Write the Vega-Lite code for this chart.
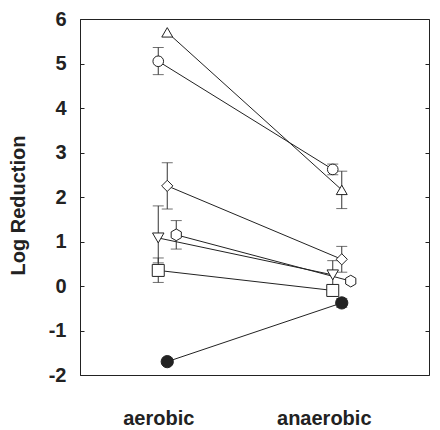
{
  "$schema": "https://vega.github.io/schema/vega-lite/v6.json",
  "width": 349,
  "height": 356,
  "autosize": {"type": "none"},
  "padding": {"left": 80, "top": 19, "right": 11, "bottom": 55},
  "background": "white",
  "config": {
    "view": {"stroke": "#222", "strokeWidth": 1},
    "font": "Liberation Sans",
    "axis": {"domainColor": "#222", "tickColor": "#222", "labelColor": "#222", "titleColor": "#222", "grid": false, "labelFontWeight": "bold", "titleFontWeight": "bold", "labelFont": "Liberation Sans", "titleFont": "Liberation Sans"}
  },
  "data": {
    "values": [
      {"series": "S1", "condition": "aerobic", "value": 5.05, "lo": 4.75, "hi": 5.36},
      {"series": "S1", "condition": "anaerobic", "value": 2.62, "lo": 2.50, "hi": 2.74},
      {"series": "S2", "condition": "aerobic", "value": 5.70, "lo": null, "hi": null},
      {"series": "S2", "condition": "anaerobic", "value": 2.16, "lo": 1.74, "hi": 2.58},
      {"series": "S3", "condition": "aerobic", "value": 2.25, "lo": 1.73, "hi": 2.77},
      {"series": "S3", "condition": "anaerobic", "value": 0.60, "lo": 0.31, "hi": 0.89},
      {"series": "S4", "condition": "aerobic", "value": 1.08, "lo": 0.52, "hi": 1.80},
      {"series": "S4", "condition": "anaerobic", "value": 0.25, "lo": -0.07, "hi": 0.57},
      {"series": "S5", "condition": "aerobic", "value": 1.15, "lo": 0.83, "hi": 1.47},
      {"series": "S5", "condition": "anaerobic", "value": 0.11, "lo": null, "hi": null},
      {"series": "S6", "condition": "aerobic", "value": 0.35, "lo": 0.08, "hi": 0.63},
      {"series": "S6", "condition": "anaerobic", "value": -0.10, "lo": null, "hi": null},
      {"series": "S7", "condition": "aerobic", "value": -1.70, "lo": null, "hi": null},
      {"series": "S7", "condition": "anaerobic", "value": -0.38, "lo": -0.48, "hi": -0.28}
    ]
  },
  "resolve": {"axis": {"y": "independent"}},
  "layer": [
    {
      "mark": {"type": "line", "color": "#222", "strokeWidth": 1, "xOffset": {"expr": "indexof(['S1','S4','S6'], datum.series) >= 0 ? -9 : (datum.series == 'S5' ? 9 : 0)"}},
      "encoding": {
        "x": {"field": "condition", "type": "nominal", "scale": {"type": "point", "domain": ["aerobic", "anaerobic"], "padding": 0.5},
              "axis": {"title": null, "labelAngle": 0, "ticks": false, "labelFontSize": 20, "labelPadding": 33, "domain": false,
                       "labelOffset": {"condition": {"test": "datum.value == 'aerobic'", "value": -9}, "value": -18}}},
        "y": {"field": "value", "type": "quantitative", "scale": {"domain": [-2, 6], "nice": false, "zero": false},
              "axis": {"values": [-2, -1, 0, 1, 2, 3, 4, 5, 6], "labelExpr": "datum.value + ''", "title": "Log Reduction", "titleFontSize": 20, "labelFontSize": 20, "tickSize": -4, "labelPadding": 18, "titleX": -62, "titleY": 186, "titleAngle": -90, "titleAlign": "center", "titleBaseline": "middle"}},
        "detail": {"field": "series"}
      }
    },
    {
      "transform": [{"filter": "datum.lo != null"}],
      "mark": {"type": "rule", "color": "#333", "strokeWidth": 1, "xOffset": {"expr": "indexof(['S1','S4','S6'], datum.series) >= 0 ? -9 : (datum.series == 'S5' ? 9 : 0)"}},
      "encoding": {
        "x": {"field": "condition", "type": "nominal"},
        "y": {"field": "lo", "type": "quantitative", "axis": null},
        "y2": {"field": "hi"}
      }
    },
    {
      "transform": [{"filter": "datum.lo != null"}],
      "mark": {"type": "tick", "color": "#333", "thickness": 1, "size": 11, "orient": "horizontal", "xOffset": {"expr": "indexof(['S1','S4','S6'], datum.series) >= 0 ? -9 : (datum.series == 'S5' ? 9 : 0)"}},
      "encoding": {
        "x": {"field": "condition", "type": "nominal"},
        "y": {"field": "lo", "type": "quantitative", "axis": null}
      }
    },
    {
      "transform": [{"filter": "datum.hi != null"}],
      "mark": {"type": "tick", "color": "#333", "thickness": 1, "size": 11, "orient": "horizontal", "xOffset": {"expr": "indexof(['S1','S4','S6'], datum.series) >= 0 ? -9 : (datum.series == 'S5' ? 9 : 0)"}},
      "encoding": {
        "x": {"field": "condition", "type": "nominal"},
        "y": {"field": "hi", "type": "quantitative", "axis": null}
      }
    },
    {
      "mark": {"type": "point", "filled": true, "stroke": "#222", "strokeWidth": 1, "opacity": 1, "xOffset": {"expr": "indexof(['S1','S4','S6'], datum.series) >= 0 ? -9 : (datum.series == 'S5' ? 9 : 0)"}},
      "encoding": {
        "x": {"field": "condition", "type": "nominal"},
        "y": {"field": "value", "type": "quantitative",
              "axis": {"orient": "right", "values": [-2, -1, 0, 1, 2, 3, 4, 5, 6], "labels": false, "title": null, "tickSize": -4, "domain": false}},
        "shape": {"field": "series", "type": "nominal", "legend": null,
                  "scale": {"domain": ["S1", "S2", "S3", "S4", "S5", "S6", "S7"],
                            "range": ["circle", "triangle-up", "diamond", "triangle-down", "M0,-1L0.866,-0.5L0.866,0.5L0,1L-0.866,0.5L-0.866,-0.5Z", "square", "circle"]}},
        "size": {"field": "series", "type": "nominal", "legend": null,
                 "scale": {"domain": ["S1", "S2", "S3", "S4", "S5", "S6", "S7"], "range": [113, 150, 175, 155, 135, 100, 133]}},
        "fill": {"field": "series", "type": "nominal", "legend": null,
                 "scale": {"domain": ["S1", "S2", "S3", "S4", "S5", "S6", "S7"], "range": ["white", "white", "white", "white", "white", "white", "#222"]}}
      }
    }
  ]
}
